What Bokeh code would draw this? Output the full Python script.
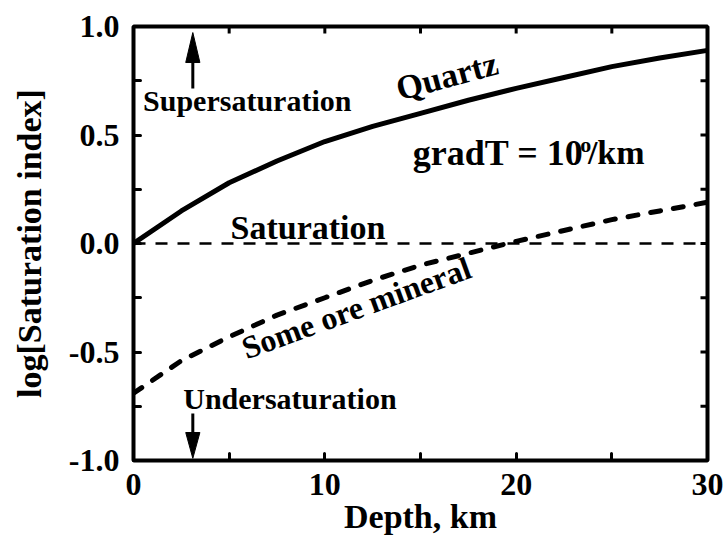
import math

from bokeh.plotting import figure
from bokeh.models import FixedTicker, Label, Range1d
from bokeh.embed import file_html
from bokeh.resources import INLINE

# ---- data -------------------------------------------------------------
depth_km = [0, 2.5, 5, 7.5, 10, 12.5, 15, 17.5, 20, 22.5, 25, 27.5, 30]
log_si_quartz = [0.0, 0.15, 0.28, 0.38, 0.47, 0.54, 0.60, 0.66, 0.715, 0.765, 0.815, 0.855, 0.89]
log_si_ore = [-0.69, -0.54, -0.43, -0.33, -0.25, -0.17, -0.10, -0.045, 0.01, 0.06, 0.11, 0.15, 0.19]

saturation_level = 0.0

x_major = [0, 10, 20, 30]
x_minor = [5, 15, 25]
y_major = [-1.0, -0.5, 0.0, 0.5, 1.0]
y_minor = [-0.75, -0.25, 0.25, 0.75]
y_tick_labels = ["-1.0", "-0.5", "0.0", "0.5", "1.0"]

X_MIN, X_MAX = 0, 30
Y_MIN, Y_MAX = -1, 1

FONT = "Liberation Serif"

# ---- figure -----------------------------------------------------------
p = figure(width=725, height=546,
           x_range=Range1d(X_MIN, X_MAX), y_range=Range1d(Y_MIN, Y_MAX),
           output_backend="svg", toolbar_location=None,
           min_border_left=133, min_border_right=18,
           min_border_top=26, min_border_bottom=86)
p.grid.visible = False
p.outline_line_color = "black"
p.outline_line_width = 4
p.background_fill_color = "white"
p.border_fill_color = "white"


def style_axis(ax):
    ax.axis_line_color = None
    ax.major_tick_in = 7
    ax.major_tick_out = 0
    ax.minor_tick_in = 7
    ax.minor_tick_out = 0
    ax.major_tick_line_width = 3
    ax.minor_tick_line_width = 3
    ax.major_tick_line_cap = "round"
    ax.minor_tick_line_cap = "round"
    ax.major_tick_line_color = "black"
    ax.minor_tick_line_color = "black"
    ax.major_label_text_font = FONT
    ax.major_label_text_font_style = "bold"
    ax.major_label_text_font_size = "32px"
    ax.major_label_text_color = "black"
    ax.axis_label_text_font = FONT
    ax.axis_label_text_font_style = "bold"
    ax.axis_label_text_font_size = "34px"
    ax.axis_label_text_color = "black"


xa = p.xaxis[0]
xa.ticker = FixedTicker(ticks=x_major, minor_ticks=x_minor)
style_axis(xa)
xa.axis_label = "Depth, km"
xa.major_label_standoff = 13
xa.axis_label_standoff = 0

ya = p.yaxis[0]
ya.ticker = FixedTicker(ticks=y_major, minor_ticks=y_minor)
style_axis(ya)
ya.axis_label = "log[Saturation index]"
ya.major_label_standoff = 14
ya.axis_label_standoff = 18
ya.major_label_overrides = {v: s for v, s in zip(y_major, y_tick_labels)}

# inward ticks on the top and right edges of the frame (half of each
# dash is clipped away by the frame)
top_ticks = x_major + x_minor
right_ticks = y_major + y_minor
p.scatter(top_ticks, [Y_MAX] * len(top_ticks), marker="dash", size=14,
          angle=math.pi / 2, line_color="black", line_width=3)
p.scatter([X_MAX] * len(right_ticks), right_ticks, marker="dash", size=14,
          line_color="black", line_width=3)

# ---- curves -----------------------------------------------------------
p.line([X_MIN, X_MAX], [saturation_level, saturation_level], line_color="black",
       line_width=2.5, line_dash="12 10")
p.line(depth_km, log_si_quartz, line_color="black", line_width=5)
p.line(depth_km, log_si_ore, line_color="black", line_width=5,
       line_dash="10 13", line_cap="round")

# ---- arrows -----------------------------------------------------------
ARROW_X = 3.1
HALF_W = 0.37  # arrow head half width in depth units
p.line([ARROW_X, ARROW_X], [0.714, 0.84], line_color="black", line_width=3)
p.patch([ARROW_X - HALF_W, ARROW_X, ARROW_X + HALF_W], [0.834, 0.972, 0.834],
        fill_color="black", line_color="black", line_width=1)
p.line([ARROW_X, ARROW_X], [-0.783, -0.88], line_color="black", line_width=3)
p.patch([ARROW_X - HALF_W, ARROW_X, ARROW_X + HALF_W], [-0.871, -0.99, -0.871],
        fill_color="black", line_color="black", line_width=1)

# ---- text annotations -------------------------------------------------
def add_label(x, y, text, size, angle=0):
    p.add_layout(Label(x=x, y=y, text=text, text_font=FONT,
                       text_font_style="bold", text_font_size=size,
                       text_color="black", angle=angle, angle_units="deg",
                       text_align="left", text_baseline="alphabetic"))


add_label(0.5, 0.661, "Supersaturation", "30px")
add_label(2.6, -0.714, "Undersaturation", "30px")
add_label(5.07, 0.074, "Saturation", "34px")
add_label(13.76, 0.71, "Quartz", "34px", angle=15)
add_label(14.6, 0.418, "gradT = 10", "36px")
add_label(23.35, 0.454, "o", "22px")
add_label(23.75, 0.418, "/km", "34px")
add_label(5.72, -0.487, "Some ore mineral", "32px", angle=20)

open("out.html", "w").write(file_html(p, INLINE))
